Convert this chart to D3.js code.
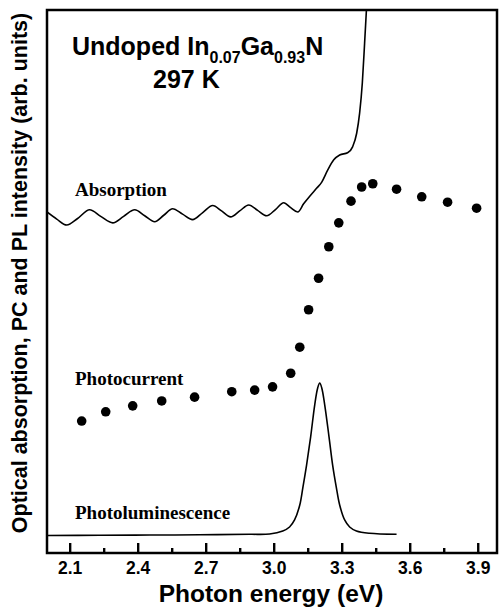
<!DOCTYPE html>
<html>
<head>
<meta charset="utf-8">
<script src="https://cdn.jsdelivr.net/npm/d3@7"></script>
<style>
  body { margin: 0; background: #fff; }
  svg { display: block; }
  .sans { font-family: "Liberation Sans", Arial, sans-serif; font-weight: bold; }
  .serif { font-family: "Liberation Serif", "Times New Roman", serif; font-weight: bold; }
</style>
</head>
<body>
<script>
// photocurrent dots (eV, arb. units)
var pcEnergy = [2.153, 2.259, 2.378, 2.506, 2.651, 2.815, 2.916, 2.995, 3.075, 3.115, 3.154,
                3.198, 3.243, 3.287, 3.341, 3.388, 3.437, 3.542, 3.653, 3.767, 3.895];
var pcValue = [24.3, 26.0, 27.1, 28.0, 28.7, 29.7, 30.0, 30.6, 33.1, 37.9, 44.8,
               50.6, 56.4, 60.8, 64.8, 67.4, 68.0, 67.0, 65.6, 64.6, 63.5];

// absorption trace
var absEnergy = [2.0, 2.043, 2.087, 2.135, 2.188, 2.237, 2.290, 2.338, 2.387, 2.431, 2.475,
                 2.515, 2.554, 2.598, 2.642, 2.687, 2.731, 2.770, 2.810, 2.850, 2.890,
                 2.929, 2.969, 3.009, 3.044, 3.075, 3.106, 3.132, 3.159, 3.190, 3.212,
                 3.238, 3.265, 3.291, 3.326, 3.348, 3.366, 3.379, 3.391, 3.401, 3.409, 3.413];
var absValue = [62.8, 61.5, 60.4, 61.6, 63.2, 62.0, 60.8, 62.0, 63.2, 62.1, 61.0,
                62.2, 63.4, 62.4, 61.4, 62.7, 64.0, 63.0, 61.9, 63.0, 64.1,
                63.1, 62.1, 63.3, 64.5, 63.6, 62.8, 64.3, 65.7, 67.2, 68.3,
                70.5, 72.4, 73.3, 73.7, 74.8, 77.3, 81.0, 86.6, 93.9, 100, 103];

// photoluminescence trace
var plEnergy = [2.0, 2.232, 2.453, 2.673, 2.894, 2.982, 3.040, 3.070, 3.092, 3.115, 3.129,
                3.145, 3.163, 3.181, 3.194, 3.203, 3.212, 3.225, 3.244, 3.260, 3.276,
                3.291, 3.313, 3.335, 3.365, 3.423, 3.542];
var plValue = [3.22, 3.26, 3.31, 3.35, 3.44, 3.50, 4.05, 4.79, 6.08, 8.84, 12.15,
               16.2, 21.4, 27.3, 30.4, 31.3, 30.4, 27.3, 21.4, 16.2, 12.15,
               8.84, 6.08, 4.79, 4.05, 3.63, 3.44];

var majorTicks = [2.1, 2.4, 2.7, 3.0, 3.3, 3.6, 3.9];
var minorTicks = [2.25, 2.55, 2.85, 3.15, 3.45, 3.75];

var W = 499, H = 612;
var plotL = 47, plotR = 497, plotT = 10, plotB = 553;

var svg = d3.select("body").append("svg")
    .attr("width", W)
    .attr("height", H);

var x = d3.scaleLinear().domain([2.0, 3.985]).range([plotL, plotR]);
var y = d3.scaleLinear().domain([0, 100]).range([plotB, plotT]);

svg.append("clipPath").attr("id", "plotclip")
  .append("rect")
    .attr("x", plotL).attr("y", plotT)
    .attr("width", plotR - plotL).attr("height", plotB - plotT);

var absLine = d3.line()
    .x(function(d) { return x(d[0]); })
    .y(function(d) { return y(d[1]); })
    .curve(d3.curveMonotoneX);

var plLine = d3.line()
    .x(function(d) { return x(d[0]); })
    .y(function(d) { return y(d[1]); })
    .curve(d3.curveCatmullRom.alpha(0.5));

var absData = absEnergy.map(function(e, i) { return [e, absValue[i]]; });
var plData = plEnergy.map(function(e, i) { return [e, plValue[i]]; });

svg.append("path")
    .datum(absData)
    .attr("clip-path", "url(#plotclip)")
    .attr("d", absLine)
    .attr("fill", "none")
    .attr("stroke", "#000")
    .attr("stroke-width", 1.6);

svg.append("path")
    .datum(plData)
    .attr("d", plLine)
    .attr("fill", "none")
    .attr("stroke", "#000")
    .attr("stroke-width", 1.6);

svg.selectAll("circle.pc")
    .data(pcEnergy)
  .enter().append("circle")
    .attr("class", "pc")
    .attr("cx", function(d) { return x(d); })
    .attr("cy", function(d, i) { return y(pcValue[i]); })
    .attr("r", 4.8)
    .attr("fill", "#000");

// bottom axis, ticks pointing inwards
var xAxis = svg.append("g")
    .attr("class", "sans")
    .attr("transform", "translate(0," + plotB + ")")
    .call(d3.axisBottom(x).tickValues(majorTicks).tickSize(-10).tickPadding(9)
      .tickFormat(d3.format(".1f")));
xAxis.select(".domain").remove();
xAxis.selectAll("line").attr("stroke-width", 2.4);
xAxis.selectAll("text").attr("font-size", 17.5).attr("fill", "#000");

var xMinor = svg.append("g")
    .attr("transform", "translate(0," + plotB + ")")
    .call(d3.axisBottom(x).tickValues(minorTicks).tickSize(-5).tickFormat(""));
xMinor.select(".domain").remove();
xMinor.selectAll("line").attr("stroke-width", 2.4);

// frame
svg.append("rect")
    .attr("x", plotL).attr("y", plotT)
    .attr("width", plotR - plotL).attr("height", plotB - plotT)
    .attr("fill", "none")
    .attr("stroke", "#000")
    .attr("stroke-width", 2.5);

svg.append("text")
    .attr("class", "sans")
    .attr("x", (plotL + plotR) / 2 - 1)
    .attr("y", 602)
    .attr("text-anchor", "middle")
    .attr("font-size", 24.5)
    .text("Photon energy (eV)");

svg.append("text")
    .attr("class", "sans")
    .attr("transform", "translate(27,273) rotate(-90)")
    .attr("text-anchor", "middle")
    .attr("font-size", 21.5)
    .text("Optical absorption, PC and PL intensity (arb. units)");

// title with subscripts
var title = svg.append("text")
    .attr("class", "sans")
    .attr("x", 72)
    .attr("y", 55)
    .attr("font-size", 25);
title.append("tspan").text("Undoped In");
title.append("tspan").attr("font-size", 16).attr("dy", 8).text("0.07");
title.append("tspan").attr("dy", -8).text("Ga");
title.append("tspan").attr("font-size", 16).attr("dy", 8).text("0.93");
title.append("tspan").attr("dy", -8).text("N");

svg.append("text")
    .attr("class", "sans")
    .attr("x", 153)
    .attr("y", 88)
    .attr("font-size", 25)
    .text("297 K");

var labels = [
  { t: "Absorption", x: 75, y: 196 },
  { t: "Photocurrent", x: 75, y: 385 },
  { t: "Photoluminescence", x: 75, y: 519 }
];
svg.selectAll("text.curve")
    .data(labels)
  .enter().append("text")
    .attr("class", "serif curve")
    .attr("x", function(d) { return d.x; })
    .attr("y", function(d) { return d.y; })
    .attr("font-size", 19)
    .text(function(d) { return d.t; });
</script>
</body>
</html>
